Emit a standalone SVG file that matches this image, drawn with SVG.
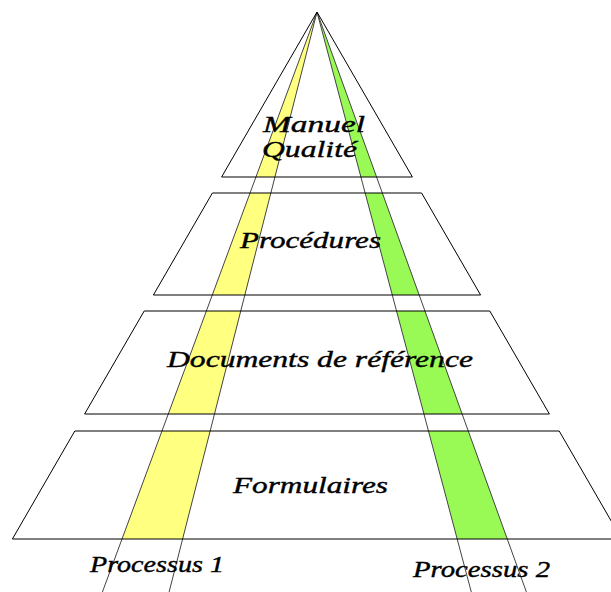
<svg xmlns="http://www.w3.org/2000/svg" width="611" height="592" viewBox="0 0 611 592">
<style>
.layer{fill:none;stroke:#000;stroke-width:1}
.band-line{stroke:#444;stroke-width:1;fill:none}
.lbl{font-family:"Liberation Serif","DejaVu Serif",serif;font-style:italic;font-size:24px;fill:#000;stroke:#000;stroke-width:0.4}
</style>
<defs>
<clipPath id="layers">
<polygon points="317,12 412.4,177 221.6,177"/>
<polygon points="212.4,193 421.6,193 480.6,295 153.4,295"/>
<polygon points="144.2,311 489.8,311 549.4,414 84.6,414"/>
<polygon points="74.8,431 559.2,431 621.6,539 12.4,539"/>
</clipPath>
</defs>
<rect width="611" height="592" fill="#fff"/>
<g id="bands" clip-path="url(#layers)">
<polygon points="317,12 102.4,592 169.1,592" fill="#FFFF80"/>
<polygon points="317,12 471.3,592 526.4,592" fill="#99FA55"/>
</g>
<g id="connectors">
<line class="band-line" x1="317" y1="12" x2="102.4" y2="592"/>
<line class="band-line" x1="317" y1="12" x2="169.1" y2="592"/>
<line class="band-line" x1="317" y1="12" x2="471.3" y2="592"/>
<line class="band-line" x1="317" y1="12" x2="526.4" y2="592"/>
</g>
<g id="manuel-qualite">
<polygon class="layer" points="317,12 412.4,177 221.6,177"/>
<text class="lbl" x="263" y="132" textLength="102" lengthAdjust="spacingAndGlyphs">Manuel</text>
<text class="lbl" x="262" y="157" textLength="95" lengthAdjust="spacingAndGlyphs">Qualité</text>
</g>
<g id="procedures">
<polygon class="layer" points="212.4,193 421.6,193 480.6,295 153.4,295"/>
<text class="lbl" x="240" y="248" textLength="141" lengthAdjust="spacingAndGlyphs">Procédures</text>
</g>
<g id="documents">
<polygon class="layer" points="144.2,311 489.8,311 549.4,414 84.6,414"/>
<text class="lbl" x="167" y="367" textLength="306" lengthAdjust="spacingAndGlyphs">Documents de référence</text>
</g>
<g id="formulaires">
<polygon class="layer" points="74.8,431 559.2,431 621.6,539 12.4,539"/>
<text class="lbl" x="233" y="493" textLength="155" lengthAdjust="spacingAndGlyphs">Formulaires</text>
</g>
<g id="processus-1">
<text class="lbl" x="90" y="572" textLength="134" lengthAdjust="spacingAndGlyphs">Processus 1</text>
</g>
<g id="processus-2">
<text class="lbl" x="413" y="577" textLength="137" lengthAdjust="spacingAndGlyphs">Processus 2</text>
</g>
</svg>
